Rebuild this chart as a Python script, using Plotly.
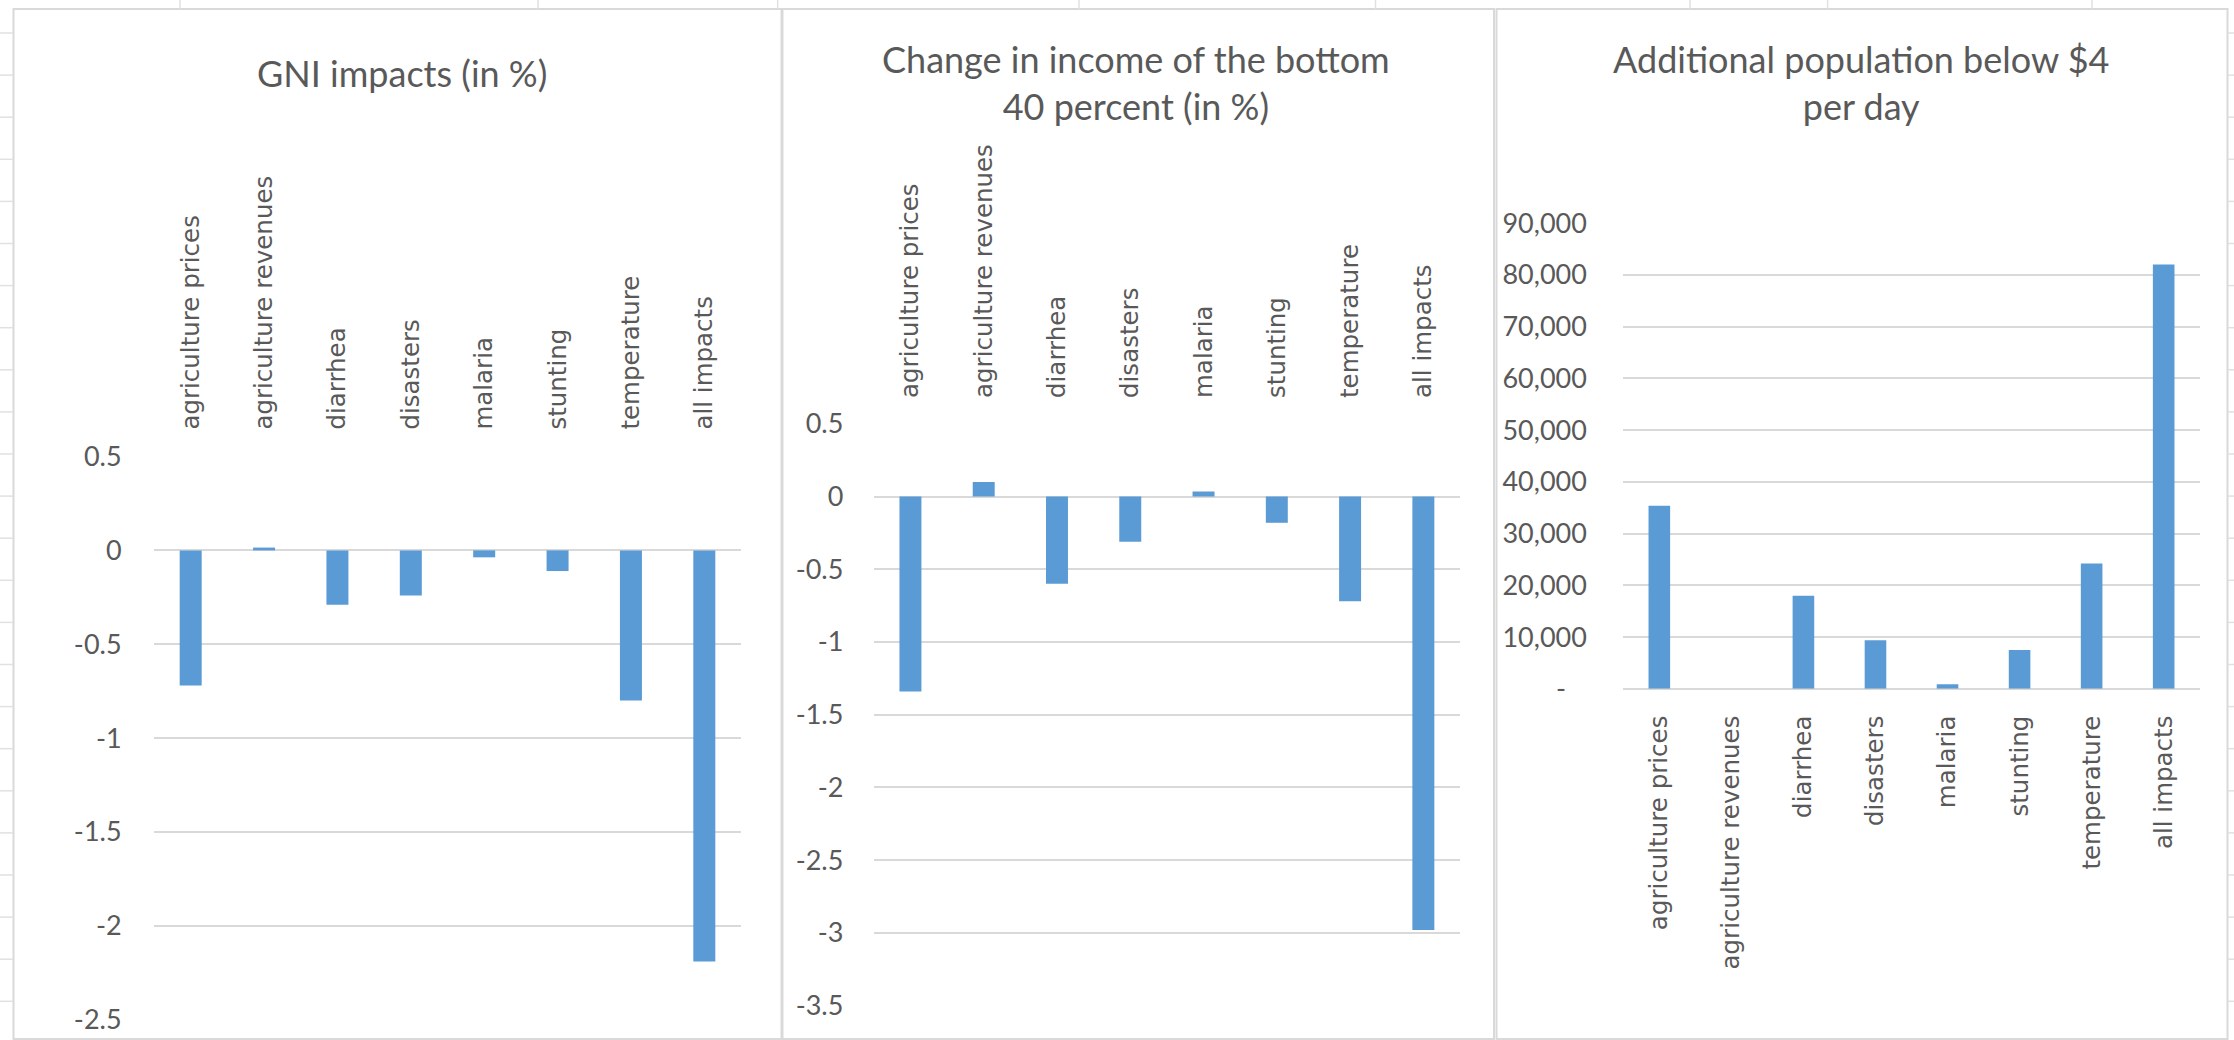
import plotly.graph_objects as go

# ---------------- data ----------------
categories = ["agriculture prices", "agriculture revenues", "diarrhea", "disasters",
              "malaria", "stunting", "temperature", "all impacts"]
gni_impacts = [-0.72, 0.015, -0.29, -0.24, -0.037, -0.11, -0.80, -2.19]
bottom40_change = [-1.34, 0.10, -0.60, -0.31, 0.035, -0.18, -0.72, -2.98]
pop_below4 = [35400, 0, 18000, 9400, 900, 7500, 24200, 82000]

titles = ["GNI impacts (in %)",
          "Change in income of the bottom<br>40 percent (in %)",
          "Additional population below $4<br>per day"]

y1_vals = [0.5, 0, -0.5, -1, -1.5, -2, -2.5]
y1_text = ["0.5", "0", "-0.5", "-1", "-1.5", "-2", "-2.5"]
y2_vals = [0.5, 0, -0.5, -1, -1.5, -2, -2.5, -3, -3.5]
y2_text = ["0.5", "0", "-0.5", "-1", "-1.5", "-2", "-2.5", "-3", "-3.5"]
y3_vals = [0, 10000, 20000, 30000, 40000, 50000, 60000, 70000, 80000, 90000]
y3_text = ["-\u00a0\u00a0\u00a0", "10,000", "20,000", "30,000", "40,000", "50,000",
           "60,000", "70,000", "80,000", "90,000"]

# ---------------- layout helpers ----------------
W, H = 2234, 1040
BAR = "#5B9BD5"
GRID = "#D9D9D9"
TXT = "#595959"
TICKFONT = dict(family="Lato", size=27, color=TXT)
CATFONT = dict(family="DejaVu Sans", size=24.5, color=TXT)


def px_x(x):
    return x / W


def px_y(y):
    return 1 - y / H


fig = go.Figure()
series = [gni_impacts, bottom40_change, pop_below4]
for i, vals in enumerate(series):
    sfx = "" if i == 0 else str(i + 1)
    fig.add_trace(go.Bar(x=categories, y=vals, marker=dict(color=BAR, line=dict(width=0)),
                         width=0.3, xaxis="x" + sfx, yaxis="y" + sfx,
                         showlegend=False, hoverinfo="x+y"))

# plot areas in pixels: (x0, x1, ytop, ybottom)
areas = [(154, 741, 456.5, 1019.8), (873.8, 1460, 423.9, 1005.6), (1623.3, 2199.7, 223.2, 688.8)]
yranges = [[-2.5, 0.5], [-3.5, 0.5], [0, 90000]]
ytv = [(y1_vals, y1_text), (y2_vals, y2_text), (y3_vals, y3_text)]
yticklen = [26, 24, 30]
xticklen = [21, 20, 16]
xsides = ["top", "top", "bottom"]

layout = dict(width=W, height=H, margin=dict(l=0, r=0, t=0, b=0),
              paper_bgcolor="white", plot_bgcolor="white", bargap=0.7)
for i in range(3):
    sfx = "" if i == 0 else str(i + 1)
    x0, x1, yt, yb = areas[i]
    layout["xaxis" + sfx] = dict(
        domain=[px_x(x0), px_x(x1)], anchor="y" + sfx, side=xsides[i],
        type="category", tickangle=-90, tickfont=CATFONT, showgrid=False,
        showline=False, zeroline=False, ticks="outside", ticklen=xticklen[i],
        tickcolor="rgba(0,0,0,0)", automargin=False, fixedrange=True)
    layout["yaxis" + sfx] = dict(
        domain=[px_y(yb), px_y(yt)], anchor="x" + sfx, range=yranges[i],
        tickvals=ytv[i][0], ticktext=ytv[i][1], tickfont=TICKFONT,
        showgrid=True, gridcolor=GRID, gridwidth=1.5, zeroline=True,
        zerolinecolor=GRID, zerolinewidth=1.5, showline=False,
        ticks="outside", ticklen=yticklen[i], tickcolor="rgba(0,0,0,0)",
        automargin=False, fixedrange=True)
fig.update_layout(**layout)

# titles
title_pos = [(402, 73), (1136, 83), (1861, 83)]
for t, (tx, ty) in zip(titles, title_pos):
    fig.add_annotation(text=t, xref="paper", yref="paper", x=px_x(tx), y=px_y(ty),
                       xanchor="center", yanchor="middle", showarrow=False,
                       font=dict(family="Lato", size=36, color=TXT))

# ---------------- spreadsheet background decorations ----------------
shapes = []
SHEET = "#E1E1E1"
# row lines visible at left and right edges
for k in range(25):
    yy = 33 + 42.1 * k
    if yy > H:
        break
    shapes.append(dict(type="line", xref="paper", yref="paper", x0=0, x1=px_x(13),
                       y0=px_y(yy), y1=px_y(yy), line=dict(color=SHEET, width=1.5)))
    shapes.append(dict(type="line", xref="paper", yref="paper", x0=px_x(2228), x1=1,
                       y0=px_y(yy), y1=px_y(yy), line=dict(color=SHEET, width=1.5)))
# column lines visible at the top
for xx in [180, 538, 777.7, 1079, 1375.5, 1690, 1827.6, 2092]:
    shapes.append(dict(type="line", xref="paper", yref="paper", x0=px_x(xx), x1=px_x(xx),
                       y0=1, y1=px_y(9), line=dict(color=SHEET, width=1.5)))
# chart panel borders
for (a, b) in [(13.5, 781.5), (782.5, 1494), (1496.5, 2227.5)]:
    shapes.append(dict(type="rect", xref="paper", yref="paper", x0=px_x(a), x1=px_x(b),
                       y0=px_y(1039), y1=px_y(9), line=dict(color=GRID, width=2),
                       fillcolor="rgba(0,0,0,0)", layer="below"))
fig.update_layout(shapes=shapes)

fig.write_html("out.html", config={"displayModeBar": False},
               post_script="document.body.style.margin='0';document.body.style.overflow='hidden';")
